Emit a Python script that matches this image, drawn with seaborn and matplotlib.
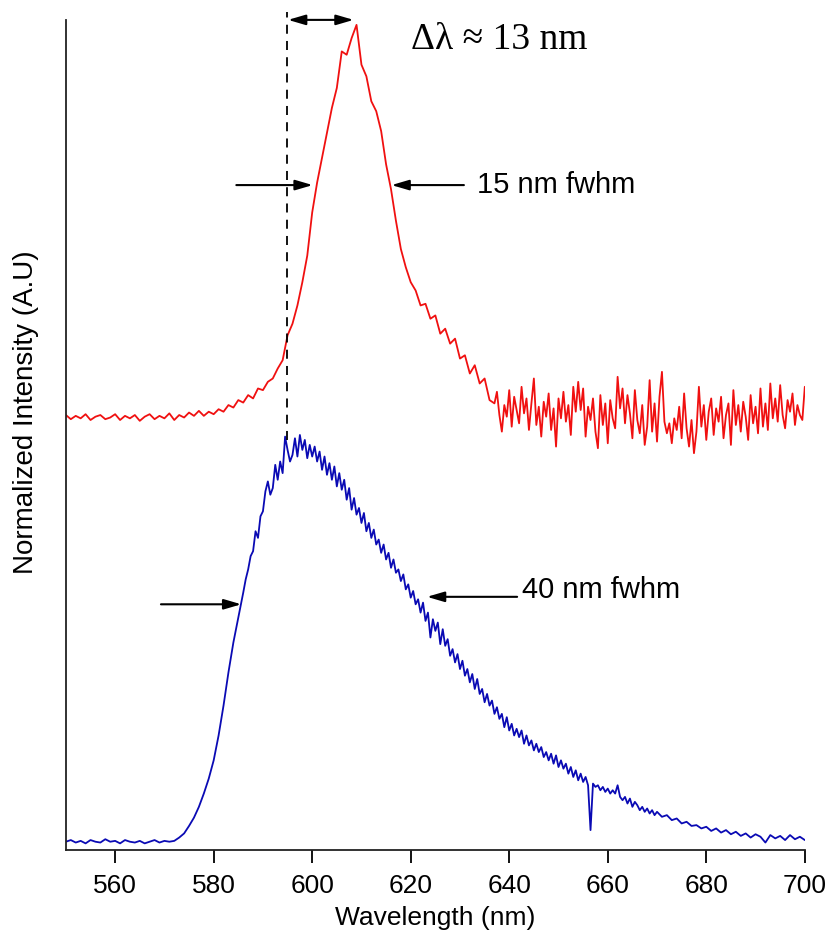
import matplotlib
matplotlib.use('Agg')
import matplotlib.pyplot as plt
import seaborn as sns
import pandas as pd
import numpy as np

# wavelength grids (nm): noisy parts are sampled every 0.5 nm
red_wavelength = np.concatenate([np.arange(550, 637), np.arange(637, 700.5, 0.5)])
blue_wavelength = np.concatenate([np.arange(550, 586), np.arange(586, 670.5, 0.5),
                                  np.arange(671, 701)])

# narrow emission (red), normalized and offset
red_intensity = [
    52.4, 51.9, 52.3, 52.0, 52.5, 51.8, 52.2, 52.4, 51.9, 52.1,
    52.5, 51.8, 52.3, 52.0, 52.4, 51.7, 52.2, 52.5, 51.9, 52.3,
    52.0, 52.6, 51.8, 52.4, 52.1, 52.7, 52.3, 52.9, 52.3, 52.8,
    52.5, 53.1, 52.8, 53.6, 53.3, 54.2, 53.9, 54.8, 54.4, 55.6,
    55.4, 56.4, 56.8, 58.0, 59.0, 62.0, 63.4, 65.6, 68.4, 71.6,
    76.8, 80.4, 83.4, 86.4, 89.4, 91.8, 96.2, 95.8, 97.8, 99.4,
    94.6, 93.2, 90.2, 89.0, 86.6, 82.6, 79.6, 75.8, 72.4, 70.2,
    68.4, 67.4, 65.6, 65.8, 64.0, 64.4, 62.2, 62.8, 61.0, 61.6,
    59.2, 59.6, 57.4, 58.4, 56.2, 56.8, 54.2,
    # 637 .. 700 nm, 0.5 nm steps
    53.8, 55.2, 52.4, 50.4, 53.6, 52.2, 55.4, 51.0, 54.6, 53.0,
    51.4, 55.8, 52.6, 54.4, 50.6, 53.8, 56.8, 51.2, 53.4, 49.8,
    54.0, 52.2, 55.0, 50.6, 53.2, 48.6, 54.4, 52.0, 55.2, 51.6,
    53.6, 50.0, 55.8, 52.8, 56.4, 53.0, 55.6, 49.8, 53.4, 51.8,
    54.4, 50.4, 48.4, 54.8, 51.2, 53.8, 49.0, 54.2, 52.0, 50.8,
    57.0, 53.2, 55.6, 51.4, 54.8, 52.6, 49.6, 55.4, 51.8, 50.2,
    53.6, 48.8, 51.0, 56.6, 50.4, 53.8, 49.2, 54.6, 57.6, 51.6,
    50.2, 51.4, 49.0, 52.0, 50.6, 53.4, 49.6, 55.0, 50.8, 48.6,
    51.8, 47.8, 50.4, 55.8, 51.0, 53.6, 49.4, 52.8, 54.4, 50.0,
    53.2, 51.6, 54.6, 49.6, 52.4, 53.8, 48.8, 55.4, 51.2, 53.6,
    50.4, 54.0, 52.2, 49.4, 54.8, 51.4, 53.4, 50.2, 55.6, 51.0,
    53.8, 50.6, 56.2, 52.0, 54.4, 51.6, 56.0, 52.4, 50.8, 54.2,
    52.8, 55.0, 51.2, 53.6, 52.4, 51.8, 55.8,
]

# broad emission (blue)
blue_intensity = [
    # 550 .. 585 nm
    1.0, 1.2, 0.9, 1.1, 0.8, 1.2, 1.0, 0.9, 1.3, 1.0,
    1.1, 0.8, 1.2, 1.0, 0.9, 1.1, 0.8, 1.0, 1.2, 0.9,
    1.1, 1.0, 1.1, 1.5, 2.0, 2.9, 3.9, 5.2, 6.8, 8.6,
    10.8, 13.8, 17.4, 21.4, 25.0, 28.0,
    # 586 .. 670 nm, 0.5 nm steps
    31.0, 32.6, 33.8, 35.4, 36.0, 38.4, 37.6, 40.2, 40.8, 43.2,
    44.4, 42.8, 43.6, 46.4, 44.6, 46.8, 45.4, 49.8, 48.2, 46.8,
    47.6, 49.6, 47.4, 50.0, 48.2, 49.4, 47.2, 48.8, 47.4, 48.6,
    46.8, 48.0, 45.8, 47.4, 45.2, 46.6, 44.6, 46.2, 43.8, 45.4,
    43.4, 44.6, 42.2, 43.6, 41.0, 42.4, 40.4, 41.2, 39.4, 40.6,
    38.4, 39.4, 37.6, 38.6, 36.8, 37.4, 35.8, 36.8, 35.0, 35.8,
    34.0, 35.0, 33.4, 33.8, 32.4, 33.2, 31.4, 32.0, 30.4, 31.2,
    29.6, 30.2, 28.6, 29.8, 27.6, 28.6, 25.6, 27.8, 26.4, 27.4,
    24.8, 26.6, 24.6, 25.4, 23.4, 24.2, 22.6, 23.6, 21.8, 22.8,
    21.0, 21.8, 20.2, 21.2, 19.4, 20.6, 18.8, 19.4, 17.8, 18.8,
    17.4, 18.0, 16.4, 17.2, 15.8, 16.4, 14.8, 16.0, 14.4, 15.2,
    13.8, 14.6, 13.6, 14.4, 12.8, 13.8, 12.6, 13.2, 12.0, 12.8,
    11.8, 12.4, 11.2, 11.8, 10.8, 11.6, 10.4, 11.4, 10.0, 10.8,
    9.8, 10.4, 9.2, 10.0, 8.8, 9.6, 8.4, 9.2, 8.2, 8.8,
    7.8, 2.4, 8.0, 7.6, 7.8, 7.2, 7.6, 7.0, 7.4, 6.8,
    7.2, 6.8, 7.8, 6.4, 6.0, 6.4, 5.6, 6.2, 5.2, 5.8,
    5.4, 4.8, 5.2, 4.6, 5.0, 4.4, 4.8, 4.2, 4.6,
    # 671 .. 700 nm
    4.0, 4.2, 3.6, 3.8, 3.2, 3.4, 2.9, 3.0, 2.6, 2.8,
    2.3, 2.6, 2.1, 2.4, 1.9, 2.2, 1.7, 2.0, 1.5, 1.9,
    1.6, 0.9, 1.8, 1.4, 1.7, 1.2, 1.8, 1.3, 1.6, 1.2,
]

x_ticks = [560, 580, 600, 620, 640, 660, 680, 700]
blue_peak_nm = 594.8
red_peak_nm = 608.4

sns.set_style('ticks')
plt.rcParams['font.family'] = ['Liberation Sans', 'DejaVu Sans']
plt.rcParams['text.color'] = 'black'
plt.rcParams['axes.labelcolor'] = 'black'
plt.rcParams['xtick.color'] = 'black'

red_df = pd.DataFrame({'wavelength': red_wavelength, 'intensity': red_intensity})
blue_df = pd.DataFrame({'wavelength': blue_wavelength, 'intensity': blue_intensity})

fig = plt.figure(figsize=(8.34, 9.38), dpi=100)
ax = fig.add_axes([0.079, 0.0938, 0.886, 0.885])

sns.lineplot(data=red_df, x='wavelength', y='intensity', color='#f01010',
             linewidth=1.3, ax=ax)
sns.lineplot(data=blue_df, x='wavelength', y='intensity', color='#0a0ab4',
             linewidth=1.3, ax=ax)

ax.set_xlim(550, 700)
ax.set_ylim(0, 100)
ax.set_xticks(x_ticks)
ax.set_yticks([])
ax.tick_params(axis='x', direction='out', length=9, width=1.3, labelsize=19, pad=8)
ax.set_xlabel('Wavelength (nm)', fontsize=19, labelpad=6)
ax.set_ylabel('Normalized Intensity (A.U)', fontsize=20)
ax.yaxis.set_label_coords(-0.036, 0.528)
sns.despine(ax=ax)
for s in ['left', 'bottom']:
    ax.spines[s].set_linewidth(1.3)
    ax.spines[s].set_color('#222222')

# dashed line at the blue peak
ax.plot([blue_peak_nm, blue_peak_nm], [49.4, 101.0], ls=(0, (5, 4)), color='black',
        lw=1.3, clip_on=False)

arrow = dict(arrowstyle='-|>,head_length=0.75,head_width=0.22', color='black',
             lw=1.5, mutation_scale=14, shrinkA=0, shrinkB=0)
darrow = dict(arrowstyle='<|-|>,head_length=0.75,head_width=0.22', color='black',
              lw=1.5, mutation_scale=14, shrinkA=0, shrinkB=0)

ax.annotate('', xy=(red_peak_nm, 100.0), xytext=(blue_peak_nm + 0.3, 100.0),
            arrowprops=darrow, annotation_clip=False)
ax.text(620, 97.6, '\u0394\u03bb \u2248 13 nm', fontsize=27, family='Liberation Serif',
        va='center', ha='left')

# 15 nm fwhm
ax.annotate('', xy=(600.1, 80.1), xytext=(584.6, 80.1), arrowprops=arrow)
ax.annotate('', xy=(616.1, 80.1), xytext=(630.8, 80.1), arrowprops=arrow)
ax.text(633.4, 80.1, '15 nm fwhm', fontsize=21, va='center', ha='left')

# 40 nm fwhm
ax.annotate('', xy=(585.6, 29.6), xytext=(569.3, 29.6), arrowprops=arrow)
ax.annotate('', xy=(623.3, 30.5), xytext=(641.6, 30.5), arrowprops=arrow)
ax.text(642.5, 31.3, '40 nm fwhm', fontsize=21, va='center', ha='left')

fig.savefig('out.png', dpi=100)
